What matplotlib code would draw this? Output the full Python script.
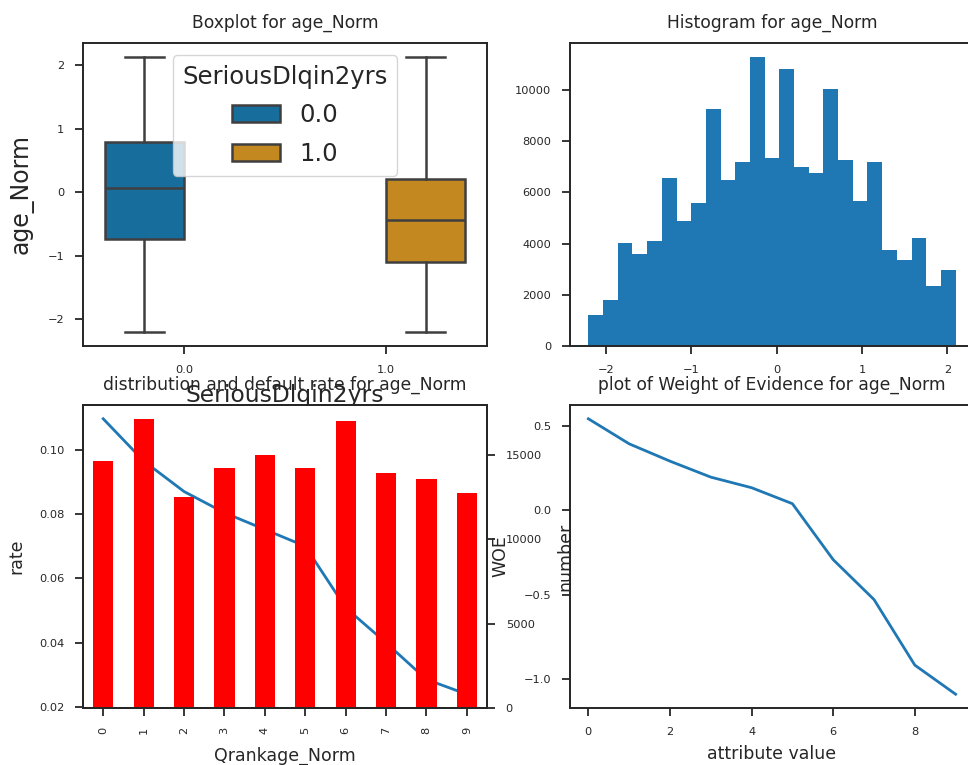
import matplotlib
matplotlib.use('Agg')
import matplotlib.pyplot as plt
from matplotlib.patches import Patch
from matplotlib.ticker import MultipleLocator
import numpy as np

# boxplot summary per class of SeriousDlqin2yrs
classes = ['0.0', '1.0']
box_q1 = [-0.735, -1.102]
box_med = [0.063, -0.441]
box_q3 = [0.798, 0.210]
whisk_lo = [-2.21, -2.21]
whisk_hi = [2.137, 2.137]
box_colors = ['#176d9c', '#c38820']

# histogram of age_Norm (25 bins)
hist_lo, hist_hi = -2.206, 2.097
hist_counts = [1226, 1786, 4029, 3612, 4107, 6571, 4889, 5593, 9244, 6506,
               7197, 11278, 7353, 10808, 7001, 6780, 10026, 7288, 5658, 7197,
               3768, 3351, 4237, 2347, 2986]

# rank groups
ranks = list(range(10))
default_rate = [0.1096, 0.0965, 0.0870, 0.0804, 0.0752, 0.0700, 0.0509, 0.0400, 0.0286, 0.0240]
rank_counts = [14644, 17095, 12510, 14229, 14960, 14229, 16996, 13893, 13577, 12708]
woe = [0.545, 0.396, 0.293, 0.198, 0.135, 0.040, -0.293, -0.530, -0.920, -1.093]

TXT = '0.15'
plt.rcParams['text.color'] = TXT
plt.rcParams['axes.labelcolor'] = TXT
plt.rcParams['xtick.color'] = TXT
plt.rcParams['ytick.color'] = TXT
plt.rcParams['axes.edgecolor'] = TXT
plt.rcParams['axes.linewidth'] = 1.4
plt.rcParams['xtick.major.size'] = 6
plt.rcParams['ytick.major.size'] = 6
plt.rcParams['xtick.major.width'] = 1.3
plt.rcParams['ytick.major.width'] = 1.3
plt.rcParams['xtick.major.pad'] = 7.5
plt.rcParams['ytick.major.pad'] = 7.5
plt.rcParams['xtick.labelsize'] = 8.2
plt.rcParams['ytick.labelsize'] = 8.2
plt.rcParams['axes.titlesize'] = 12.3
plt.rcParams['axes.titlepad'] = 11
plt.rcParams['axes.labelsize'] = 12.5

fig = plt.figure(figsize=(9.68, 7.65), dpi=100)
W, H = 968.0, 765.0

def place(l, t, r, b):
    return [l / W, 1 - b / H, (r - l) / W, (b - t) / H]

ax1 = fig.add_axes(place(83, 43, 487, 346))
ax2 = fig.add_axes(place(570, 43, 974, 346))
ax3 = fig.add_axes(place(83, 405, 487, 708))
ax4 = fig.add_axes(place(570, 405, 974, 708))

# --- boxplot
dodge = 0.196
stats = []
for i in range(len(classes)):
    stats.append(dict(med=box_med[i], q1=box_q1[i], q3=box_q3[i],
                      whislo=whisk_lo[i], whishi=whisk_hi[i], fliers=[]))
pos = [i + (dodge if i else -dodge) for i in range(len(classes))]
gray = '#3f3f3f'
bp = ax1.bxp(stats, positions=pos, widths=0.392, patch_artist=True, showfliers=False,
             boxprops=dict(edgecolor=gray, linewidth=1.8),
             whiskerprops=dict(color=gray, linewidth=1.8),
             capprops=dict(color=gray, linewidth=1.8),
             medianprops=dict(color=gray, linewidth=1.8))
for patch, c in zip(bp['boxes'], box_colors):
    patch.set_facecolor(c)
ax1.set_xticks(range(len(classes)))
ax1.set_xticklabels(classes)
ax1.set_xlim(-0.5, 1.5)
ax1.set_title('Boxplot for age_Norm')
ax1.set_ylabel('age_Norm', fontsize=17, labelpad=10)
ax1.set_xlabel('SeriousDlqin2yrs', fontsize=16.8, labelpad=7)
handles = [Patch(facecolor=c, edgecolor=gray, linewidth=1.8) for c in box_colors]
ax1.legend(handles, classes, title='SeriousDlqin2yrs', loc='upper center',
           fontsize=17.5, title_fontsize=17.5, labelspacing=0.6)

# --- histogram
edges = np.linspace(hist_lo, hist_hi, len(hist_counts) + 1)
centers = (edges[:-1] + edges[1:]) / 2
ax2.hist(centers, bins=edges, weights=hist_counts, color='#1f77b4')
ax2.set_title('Histogram for age_Norm')

# --- distribution and default rate
ax3.plot(ranks, default_rate, color='#1f77b4', linewidth=2)
ax3b = ax3.twinx()
ax3b.bar(ranks, rank_counts, width=0.5, color='red')
ax3b.yaxis.set_major_locator(MultipleLocator(5000))
ax3.set_xlim(-0.5, 9.5)
ax3.set_xticks(ranks)
ax3.set_xticklabels([str(r) for r in ranks], rotation=90)
ax3.set_ylabel('rate', labelpad=10)
ax3.set_xlabel('Qrankage_Norm', labelpad=9.5)
ax3b.set_ylabel('number', labelpad=10)
ax3.set_title('distribution and default rate for age_Norm')

# --- WOE
ax4.plot(ranks, woe, color='#1f77b4', linewidth=2)
ax4.set_xticks([0, 2, 4, 6, 8])
ax4.yaxis.set_major_locator(MultipleLocator(0.5))
ax4.set_ylabel('WOE', labelpad=10.5)
ax4.set_xlabel('attribute value', labelpad=6)
ax4.set_title('plot of Weight of Evidence for age_Norm')

fig.savefig('out.png', dpi=100)
